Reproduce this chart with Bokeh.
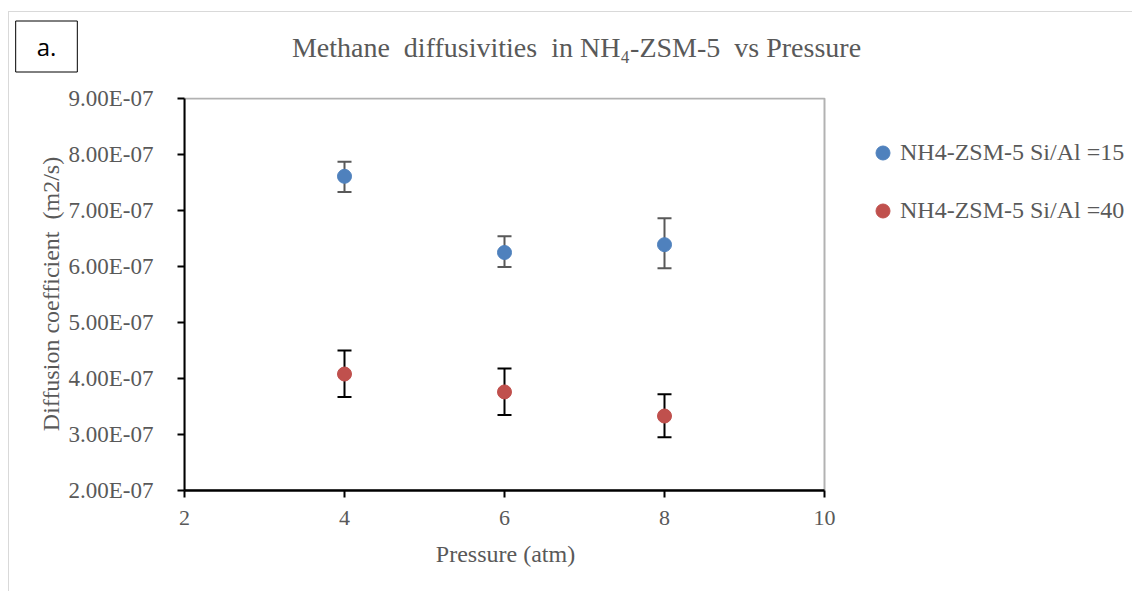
from bokeh.plotting import figure
from bokeh.models import (Whisker, ColumnDataSource, Legend, LegendItem, Label, BoxAnnotation,
                          FixedTicker, CustomJSTickFormatter, Range1d)
from bokeh.embed import file_html
from bokeh.resources import INLINE

# ---- data ----
pressure = [4, 6, 8]
d15 = [7.61e-7, 6.25e-7, 6.39e-7]
d15_upper = [7.87e-7, 6.54e-7, 6.86e-7]
d15_lower = [7.33e-7, 5.99e-7, 5.97e-7]
d40 = [4.08e-7, 3.76e-7, 3.33e-7]
d40_upper = [4.50e-7, 4.18e-7, 3.72e-7]
d40_lower = [3.67e-7, 3.35e-7, 2.95e-7]
series_names = ["NH4-ZSM-5 Si/Al =15", "NH4-ZSM-5 Si/Al =40"]
x_ticks = [2, 4, 6, 8, 10]
y_ticks = [2e-7, 3e-7, 4e-7, 5e-7, 6e-7, 7e-7, 8e-7, 9e-7]
x_min, x_max = 2, 10
y_min, y_max = 2e-7, 9e-7
title_text = "Methane\u00a0 diffusivities\u00a0 in NH\u2084-ZSM-5\u00a0 vs Pressure"
x_label = "Pressure (atm)"
y_label = "Diffusion coefficient\u00a0 (m2/s)"
panel_tag = "\u2002a.\u2002"

SERIF = "Liberation Serif"
GRAY = "#595959"
BLUE = "#4F81BD"
RED = "#C0504D"

# ---- geometry (canvas is offset by css margin+border: 9, 12) ----
CW, CH = 1124, 580
LEFT, TOP_PAD, BOTTOM = 175, 85, 102
PLOT_W = 640                # pixel width of the x_min..x_max plot box
TOP_EXTRA = 1               # pixels of frame above y_max
frame_w = CW - LEFT
frame_h = CH - TOP_PAD - BOTTOM
x_end = x_min + (x_max - x_min) * frame_w / PLOT_W
y_end = y_max + (y_max - y_min) * TOP_EXTRA / (frame_h - TOP_EXTRA)

p = figure(width=CW, height=CH, output_backend="svg", toolbar_location=None,
           x_range=Range1d(x_min, x_end), y_range=Range1d(y_min, y_end),
           min_border_left=LEFT, min_border_right=0, min_border_top=TOP_PAD,
           min_border_bottom=BOTTOM,
           styles={"margin-left": "8px", "margin-top": "11px",
                   "border-left": "1px solid #D9D9D9", "border-top": "1px solid #D9D9D9"})
p.title = None
p.grid.visible = False
p.outline_line_color = None
p.background_fill_color = "white"
p.border_fill_color = "white"

# plot-area box
p.add_layout(BoxAnnotation(left=x_min, right=x_max, bottom=y_min, top=y_max,
                           fill_color=None, line_color="black", line_width=2))

s15 = ColumnDataSource(dict(x=pressure, y=d15, up=d15_upper, lo=d15_lower))
s40 = ColumnDataSource(dict(x=pressure, y=d40, up=d40_upper, lo=d40_lower))

for src, col in ((s15, GRAY), (s40, "black")):
    w = Whisker(base="x", upper="up", lower="lo", source=src, dimension="height",
                line_color=col, line_width=2)
    for h in (w.upper_head, w.lower_head):
        h.size = 14
        h.line_color = col
        h.line_width = 2
    p.add_layout(w)

r15 = p.scatter("x", "y", source=s15, size=14, fill_color=BLUE, line_color=BLUE)
r40 = p.scatter("x", "y", source=s40, size=14, fill_color=RED, line_color=RED)

# axes
p.xaxis.ticker = FixedTicker(ticks=x_ticks)
p.yaxis.ticker = FixedTicker(ticks=y_ticks)
p.xaxis.bounds = (x_min, x_max)
p.yaxis.bounds = (y_min, y_max)
p.yaxis.formatter = CustomJSTickFormatter(code="""
var s = tick.toExponential(2).toUpperCase();
var m = s.match(/^(.*)E([+-])(\\d+)$/);
var e = m[3].length < 2 ? '0' + m[3] : m[3];
return m[1] + 'E' + m[2] + e;
""")
for ax in (p.xaxis[0], p.yaxis[0]):
    ax.major_label_text_font = SERIF
    ax.major_label_text_color = GRAY
    ax.axis_label_text_font = SERIF
    ax.axis_label_text_color = GRAY
    ax.axis_label_text_font_style = "normal"
    ax.axis_label_text_font_size = "24px"
    ax.axis_line_color = "black"
    ax.major_tick_line_color = "black"
    ax.major_tick_in = 0
    ax.major_tick_out = 7
    ax.minor_tick_line_color = None
    ax.major_tick_line_width = 2
p.xaxis.major_label_text_font_size = "22px"
p.yaxis.major_label_text_font_size = "23px"
p.xaxis.axis_line_width = 2.5
p.yaxis.axis_line_width = 2
p.yaxis.axis_label = y_label
p.yaxis.axis_label_standoff = 2
p.xaxis.major_label_standoff = 13
p.yaxis.major_label_standoff = 24

# x-axis title centred under the plot box (bottom panel, canvas coordinates)
p.add_layout(Label(x=495, y=540, x_units="canvas", y_units="canvas", text=x_label,
                   text_font=SERIF, text_font_size="24px", text_color=GRAY,
                   text_align="center", text_baseline="middle"), "below")

# chart title (top panel, canvas coordinates)
p.add_layout(Label(x=566, y=34, x_units="canvas", y_units="canvas", text=title_text,
                   text_font=SERIF, text_font_size="28px", text_color=GRAY,
                   text_align="center", text_baseline="middle"), "above")

# panel label "a."
p.add_layout(Label(x=36, y=33, x_units="canvas", y_units="canvas", text=panel_tag,
                   text_font="Open Sans", text_font_size="24px", text_color="black",
                   text_align="center", text_baseline="middle", padding=9,
                   border_line_color="black", border_line_width=1,
                   background_fill_color="white"), "above")

legend = Legend(items=[LegendItem(label=series_names[0], renderers=[r15]),
                       LegendItem(label=series_names[1], renderers=[r40])],
                location=(681, 262), orientation="vertical",
                label_text_font=SERIF, label_text_font_size="24px", label_text_color=GRAY,
                glyph_width=35, glyph_height=35, label_standoff=0, spacing=23,
                padding=0, margin=0, border_line_color=None, background_fill_alpha=0)
p.add_layout(legend, "center")

open("out.html", "w").write(file_html(p, INLINE))
